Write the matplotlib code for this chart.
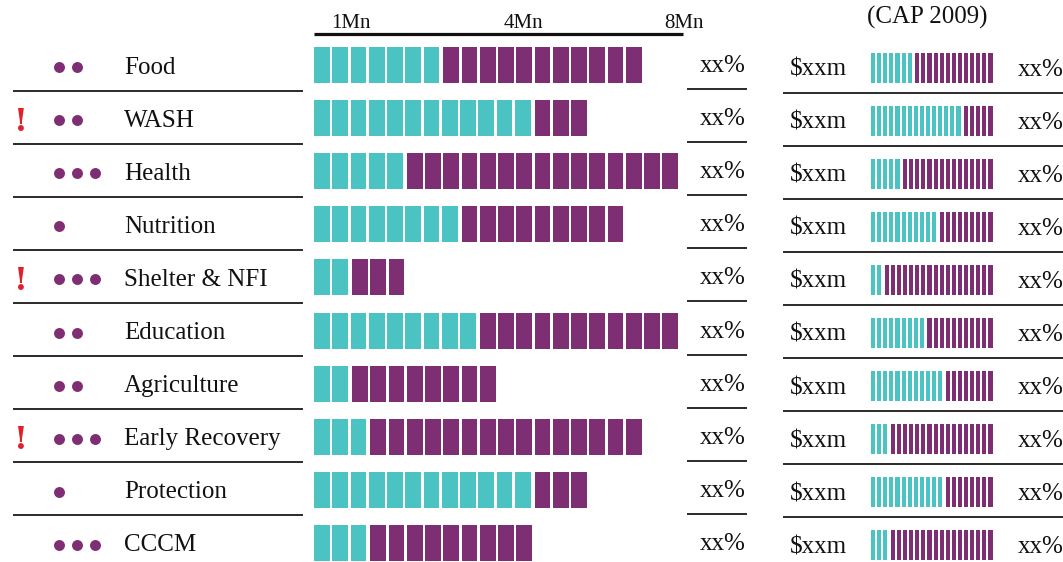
import numpy as np
from matplotlib import pyplot as plt

# sector rows, top to bottom
sectors = ['Food', 'WASH', 'Health', 'Nutrition', 'Shelter & NFI', 'Education',
           'Agriculture', 'Early Recovery', 'Protection', 'CCCM']
priority_dots = [2, 2, 3, 1, 3, 2, 2, 3, 1, 3]
alert = [False, True, False, False, True, False, False, True, False, False]

# people in need, one block per unit (teal = reached, purple = not reached)
blocks_teal = [7, 12, 5, 8, 2, 9, 2, 3, 12, 3]
blocks_purple = [11, 3, 15, 9, 3, 11, 8, 15, 3, 9]

# CAP 2009 funding ticks (teal = funded, purple = unmet)
cap_teal = [7, 15, 5, 11, 2, 9, 12, 3, 12, 3]
cap_purple = [13, 5, 15, 9, 18, 11, 8, 17, 8, 17]

pct_labels = ['xx%'] * 10
amount_labels = ['$xxm'] * 10
scale_labels = ['1Mn', '4Mn', '8Mn']
scale_pos = [2.0, 11.45, 20.3]   # in block units
cap_title = '(CAP 2009)'

TEAL = '#4cc3c3'
PURPLE = '#7e2e73'
RED = '#e0202a'
LINE = '#2a2a2a'
FONT = 'Liberation Serif'

W, H = 1063, 562
ROW0, PITCH = 65, 53.1
BLK_X0, BLK_STEP, BLK_W, BLK_H = 314, 18.25, 15.8, 36
CAP_X0, CAP_STEP, CAP_W, CAP_H = 871, 6.1, 4.1, 30


def row_y(i):
    return ROW0 + PITCH * i


def main():
    fig = plt.figure(figsize=(W / 100, H / 100), dpi=100)
    ax = fig.add_axes([0, 0, 1, 1])
    ax.set_xlim(0, W)
    ax.set_ylim(H, 0)
    ax.axis('off')

    # scale on top of the block chart
    ax.plot([BLK_X0, 683], [33.5, 33.5], color='#111111', lw=2.3, solid_capstyle='butt')
    for lab, pos in zip(scale_labels, scale_pos):
        ax.text(BLK_X0 + pos * BLK_STEP, 28, lab, ha='center', va='baseline',
                fontsize=15, family=FONT, color='#111111')

    ax.text(927, 24, cap_title, ha='center', va='baseline', fontsize=18,
            family=FONT, color='#111111')

    for i, name in enumerate(sectors):
        y = row_y(i)

        # left table
        if alert[i]:
            ax.text(21, y + 12.5, '!', ha='center', va='baseline', fontsize=23,
                    fontweight='bold', family='DejaVu Serif', color=RED)
        nd = priority_dots[i]
        ax.scatter(59.3 + 18 * np.arange(nd), [y + 2] * nd, s=62, color=PURPLE,
                   linewidths=0, zorder=3)
        ax.text(124, y + 8.5, name, ha='left', va='baseline', fontsize=18,
                family=FONT, color='#111111')

        # block chart
        nt, npu = blocks_teal[i], blocks_purple[i]
        lefts_t = BLK_X0 + BLK_STEP * np.arange(nt)
        lefts_p = BLK_X0 + BLK_STEP * (nt + np.arange(npu)) + 1.5
        ax.bar(lefts_t, BLK_H, bottom=y - BLK_H / 2, width=BLK_W, align='edge',
               color=TEAL, linewidth=0)
        ax.bar(lefts_p, BLK_H, bottom=y - BLK_H / 2, width=BLK_W, align='edge',
               color=PURPLE, linewidth=0)

        ax.text(746, y + 7, pct_labels[i], ha='right', va='baseline', fontsize=18,
                family=FONT, color='#111111')

        # CAP 2009 table
        yc = y + 2.5
        ct, cp = cap_teal[i], cap_purple[i]
        lefts_t = CAP_X0 + CAP_STEP * np.arange(ct)
        lefts_p = CAP_X0 + CAP_STEP * (ct + np.arange(cp)) + 1.5
        ax.bar(lefts_t, CAP_H, bottom=yc - CAP_H / 2, width=CAP_W, align='edge',
               color=TEAL, linewidth=0)
        ax.bar(lefts_p, CAP_H, bottom=yc - CAP_H / 2, width=CAP_W, align='edge',
               color=PURPLE, linewidth=0)
        ax.text(790, yc + 8, amount_labels[i], ha='left', va='baseline', fontsize=18,
                family=FONT, color='#111111')
        ax.text(1018, yc + 8, pct_labels[i], ha='left', va='baseline', fontsize=18,
                family=FONT, color='#111111')

        # separators (none under the last row)
        if i < len(sectors) - 1:
            ax.plot([14, 302], [y + 25.5] * 2, color=LINE, lw=1.4)
            ax.plot([688, 746], [y + 24] * 2, color=LINE, lw=1.4)
            ax.plot([784, W], [yc + 25] * 2, color=LINE, lw=1.4)

    fig.savefig('out.png', dpi=100)


if __name__ == '__main__':
    main()
